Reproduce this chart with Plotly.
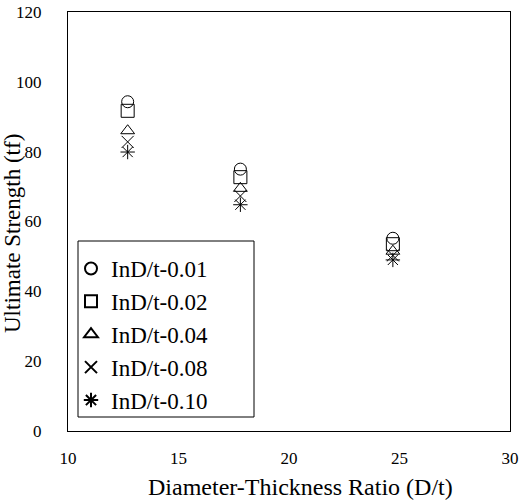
import plotly.graph_objects as go

# Diameter-thickness ratios tested
dt_ratio = [12.7, 17.8, 24.7]

# Ultimate strength (tf) for each initial imperfection level
strength_001 = [94.3, 75.0, 55.2]
strength_002 = [91.7, 72.7, 53.5]
strength_004 = [86.0, 69.5, 51.5]
strength_008 = [82.8, 67.3, 50.3]
strength_010 = [79.9, 64.8, 49.0]

series_names = ["InD/t-0.01", "InD/t-0.02", "InD/t-0.04", "InD/t-0.08", "InD/t-0.10"]
series_values = [strength_001, strength_002, strength_004, strength_008, strength_010]
symbols = ["circle-open", "square-open", "triangle-up-open", "x-thin-open", "asterisk-open"]
sizes = [12, 13, 12, 12, 12]

x_ticks = [10, 15, 20, 25, 30]
y_ticks = [0, 20, 40, 60, 80, 100, 120]

serif = "Liberation Serif, Times New Roman, serif"
L, R, T, B = 68, 20, 12, 69
W, H = 530, 500
pw, ph = W - L - R, H - T - B


def px_x(px):
    """Pixel column -> paper x."""
    return (px - L) / pw


def px_y(py):
    """Pixel row -> paper y."""
    return (H - B - py) / ph


fig = go.Figure()
for name, vals, sym, sz in zip(series_names, series_values, symbols, sizes):
    fig.add_trace(go.Scatter(
        x=dt_ratio, y=vals, mode="markers", name=name,
        marker=dict(symbol=sym, size=sz, color="black",
                    line=dict(color="black", width=1)),
    ))

fig.update_layout(
    width=W, height=H,
    margin=dict(l=L, r=R, t=T, b=B),
    paper_bgcolor="white", plot_bgcolor="white",
    font=dict(family=serif, color="black", size=17),
    showlegend=True,
    legend=dict(
        x=px_x(71), y=px_y(247), xanchor="left", yanchor="top",
        bgcolor="rgba(0,0,0,0)", borderwidth=0,
        font=dict(family=serif, size=23, color="black"),
        itemsizing="constant", itemwidth=30, tracegroupgap=0,
    ),
    xaxis=dict(
        range=[10, 30], tickvals=x_ticks,
        ticks="outside", ticklen=12, tickcolor="rgba(0,0,0,0)",
        showgrid=False, zeroline=False, automargin=False,
        showline=True, mirror=True, linecolor="black", linewidth=1,
        tickfont=dict(family=serif, size=17),
    ),
    yaxis=dict(
        range=[0, 120], tickvals=y_ticks,
        ticks="outside", ticklen=22, tickcolor="rgba(0,0,0,0)",
        showgrid=False, zeroline=False, automargin=False,
        showline=True, mirror=True, linecolor="black", linewidth=1,
        tickfont=dict(family=serif, size=17),
    ),
    shapes=[dict(
        type="rect", xref="paper", yref="paper",
        x0=px_x(78), x1=px_x(254), y0=px_y(417), y1=px_y(241),
        line=dict(color="black", width=1), fillcolor="rgba(0,0,0,0)",
        layer="below",
    )],
    annotations=[
        dict(text="Ultimate Strength (tf)", textangle=-90,
             xref="paper", yref="paper", x=px_x(12), y=px_y(234),
             xanchor="center", yanchor="middle", showarrow=False,
             font=dict(family=serif, size=23, color="black")),
        dict(text="Diameter-Thickness Ratio (D/t)",
             xref="paper", yref="paper", x=px_x(300), y=px_y(487),
             xanchor="center", yanchor="middle", showarrow=False,
             font=dict(family=serif, size=24, color="black")),
    ],
)

fig.write_html("out.html")
